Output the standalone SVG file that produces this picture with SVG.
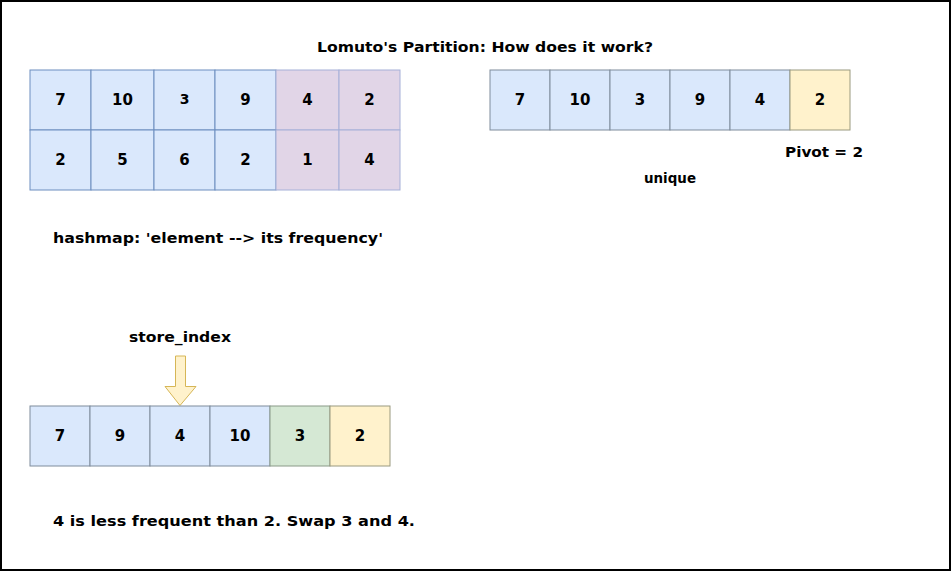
<svg xmlns="http://www.w3.org/2000/svg" width="951" height="571" viewBox="0 0 951 571">
<style>
text{font-family:"DejaVu Sans","Noto Sans",sans-serif;font-weight:bold;font-size:14px;fill:#000}
.n{text-anchor:middle;dominant-baseline:central;font-size:15px}
.s{font-size:14px}
.b{fill:#dae8fc;stroke:#6c8ebf;stroke-width:1}
.p{fill:#e1d5e7;stroke:#a6b0d8;stroke-width:1}
.bg{fill:#dae8fc;stroke:#7f8c9c;stroke-width:1}
.y{fill:#fff2cc;stroke:#9a9a80;stroke-width:1}
.g{fill:#d5e8d4;stroke:#8a9a88;stroke-width:1}
</style>
<rect x="1" y="1" width="949" height="569" fill="#fff" stroke="#000" stroke-width="2"/>
<g id="title"><text x="485" y="52" text-anchor="middle" textLength="336" lengthAdjust="spacingAndGlyphs">Lomuto's Partition: How does it work?</text></g>
<g id="grid">
<rect class="b" x="30" y="70" width="61" height="60"/><text class="n" x="60.5" y="100">7</text>
<rect class="b" x="91" y="70" width="63" height="60"/><text class="n" x="122.5" y="100">10</text>
<rect class="b" x="154" y="70" width="61" height="60"/><text class="n s" x="184.5" y="99">3</text>
<rect class="b" x="215" y="70" width="61" height="60"/><text class="n" x="245.5" y="100">9</text>
<rect class="p" x="276" y="70" width="63" height="60"/><text class="n" x="307.5" y="100">4</text>
<rect class="p" x="339" y="70" width="61" height="60"/><text class="n" x="369.5" y="100">2</text>
<rect class="b" x="30" y="130" width="61" height="60"/><text class="n" x="60.5" y="160">2</text>
<rect class="b" x="91" y="130" width="63" height="60"/><text class="n" x="122.5" y="160">5</text>
<rect class="b" x="154" y="130" width="61" height="60"/><text class="n" x="184.5" y="160">6</text>
<rect class="b" x="215" y="130" width="61" height="60"/><text class="n" x="245.5" y="160">2</text>
<rect class="p" x="276" y="130" width="63" height="60"/><text class="n" x="307.5" y="160">1</text>
<rect class="p" x="339" y="130" width="61" height="60"/><text class="n" x="369.5" y="160">4</text>
</g>
<g id="hashmap-label"><text x="53" y="243" textLength="330" lengthAdjust="spacingAndGlyphs">hashmap: 'element --&gt; its frequency'</text></g>
<g id="unique-array">
<rect class="bg" x="490" y="70" width="60" height="60"/><text class="n" x="520" y="100">7</text>
<rect class="bg" x="550" y="70" width="60" height="60"/><text class="n" x="580" y="100">10</text>
<rect class="bg" x="610" y="70" width="60" height="60"/><text class="n" x="640" y="100">3</text>
<rect class="bg" x="670" y="70" width="60" height="60"/><text class="n" x="700" y="100">9</text>
<rect class="bg" x="730" y="70" width="60" height="60"/><text class="n" x="760" y="100">4</text>
<rect class="y" x="790" y="70" width="60" height="60"/><text class="n" x="820" y="100">2</text>
</g>
<g id="pivot-label"><text x="785" y="157" textLength="78" lengthAdjust="spacingAndGlyphs">Pivot = 2</text></g>
<g id="unique-label"><text x="670" y="183" text-anchor="middle" textLength="52" lengthAdjust="spacingAndGlyphs">unique</text></g>
<g id="store-label"><text x="180" y="342" text-anchor="middle" textLength="102" lengthAdjust="spacingAndGlyphs">store_index</text></g>
<g id="connectors">
<path d="M175.5,356 H185.5 V386.5 H196 L180,405.5 L165,386.5 H175.5 Z" fill="#fff2cc" stroke="#d6b656" stroke-width="1"/>
</g>
<g id="bottom-array">
<rect class="bg" x="30" y="406" width="60" height="60"/><text class="n" x="60" y="436">7</text>
<rect class="bg" x="90" y="406" width="60" height="60"/><text class="n" x="120" y="436">9</text>
<rect class="bg" x="150" y="406" width="60" height="60"/><text class="n" x="180" y="436">4</text>
<rect class="bg" x="210" y="406" width="60" height="60"/><text class="n" x="240" y="436">10</text>
<rect class="g" x="270" y="406" width="60" height="60"/><text class="n" x="300" y="436">3</text>
<rect class="y" x="330" y="406" width="60" height="60"/><text class="n" x="360" y="436">2</text>
</g>
<g id="swap-label"><text x="53" y="526" textLength="362" lengthAdjust="spacingAndGlyphs">4 is less frequent than 2. Swap 3 and 4.</text></g>
</svg>
